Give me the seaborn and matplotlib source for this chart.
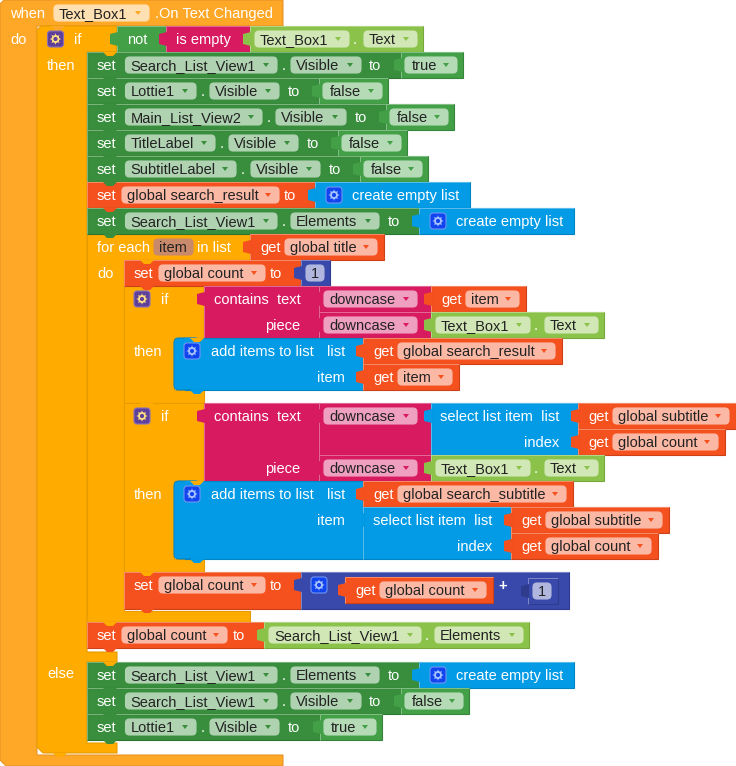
import matplotlib
matplotlib.use('Agg')
import matplotlib.pyplot as plt
from matplotlib.colors import to_rgb
from matplotlib.patches import FancyBboxPatch, Polygon
import pandas as pd
import seaborn as sns

# Block labels
EVENT_COMPONENT = 'Text_Box1'
EVENT_NAME = '.On Text Changed'
VISIBLE_COMPONENTS = ['Search_List_View1', 'Lottie1', 'Main_List_View2', 'TitleLabel', 'SubtitleLabel']
VISIBLE_VALUES = ['true', 'false', 'false', 'false', 'false']
ELSE_COMPONENTS = ['Search_List_View1', 'Lottie1']
ELSE_VALUES = ['false', 'true']
LIST_COMPONENT = 'Search_List_View1'
GLOBALS = ['global search_result', 'global title', 'global count', 'global subtitle', 'global search_subtitle']
LOOP_VAR = 'item'

# Colours
HAT = '#FFA726'
CTRL = '#FFAB00'
GREEN = '#388E3C'
GREEN2 = '#43A047'
PINK = '#D81B60'
LIME = '#8BC34A'
BLUE = '#039BE5'
RED = '#F4511E'
INDIGO = '#3949AB'
CHIPS = {HAT: '#FFE0B2', GREEN: '#AFD2B1', GREEN2: '#B4DAB6', PINK: '#EF9FBF', LIME: '#D1E7B6',
         RED: '#FBB8A5', INDIGO: '#B0B6DD'}
EDGES = {HAT: '#E8952A', CTRL: '#E89C00', GREEN: '#2E7532', GREEN2: '#37853B', PINK: '#B3164F',
         LIME: '#76A83D', BLUE: '#0284C4', RED: '#CC4118', INDIGO: '#2F3C8E'}

sns.set_theme(style='white')
plt.rcParams['font.family'] = ['Liberation Sans', 'DejaVu Sans']

fig, ax = plt.subplots(figsize=(7.36, 7.66), dpi=100)
fig.subplots_adjust(0, 0, 1, 1)
ax.set_xlim(0, 736)
ax.set_ylim(766, 0)
ax.axis('off')

FS = 10.56
gears = []


def lighter(color, amount=0.35):
    return tuple(c + (1 - c) * amount for c in to_rgb(color))


def box(x0, y0, x1, y1, face, r=0, z=1, edge=None):
    style = 'round,pad=0,rounding_size=%s' % r if r else 'square,pad=0'
    ax.add_patch(FancyBboxPatch((x0, y0), x1 - x0, y1 - y0, boxstyle=style, fc=face,
                                ec=edge or EDGES.get(face, face), lw=0.8, zorder=z))
    if face in EDGES and not r:
        # blocks have a lit top and left side
        ax.plot([x0, x0, x1], [y1, y0, y0], color=lighter(face), lw=0.7, zorder=z, solid_capstyle='butt')


def shape(points, face, z=1):
    ax.add_patch(Polygon(points, closed=True, fc=face, ec=EDGES[face], lw=0.8, zorder=z, joinstyle='round'))


def word(x, y, s, color='white', ha='left', weight='normal'):
    ax.text(x, y + 18, s, color=color, ha=ha, va='baseline', fontsize=FS, fontweight=weight, zorder=6)


def chip(x0, x1, y, label, block, pad=5):
    box(x0, y + 5, x1, y + 21, CHIPS[block], r=4, z=4)
    word(x0 + pad, y, label, '#222222')
    ax.add_patch(Polygon([(x1 - 14, y + 11), (x1 - 8, y + 11), (x1 - 11, y + 15)], fc=block, ec='none', zorder=5))


def tab(x, y, face):
    pts = [(x + 1, y + 6), (x - 3, y + 7), (x - 7, y + 8), (x - 7, y + 18), (x - 3, y + 19), (x + 1, y + 20)]
    ax.add_patch(Polygon(pts, closed=True, fc=face, ec='none', zorder=3))


def notch(x, y, face):
    pts = [(x, y), (x + 4, y + 4), (x + 10, y + 4), (x + 14, y)]
    ax.add_patch(Polygon(pts, closed=True, fc=face, ec='none', zorder=3))


def gear(cx, cy, back, tooth, rim):
    box(cx - 8, cy - 8, cx + 8, cy + 8, back, r=3, z=4, edge=rim)
    gears.append((cx, cy, tooth, back))


def blue_gear(cx, cy):
    gear(cx, cy, '#1144EE', '#A9C4FF', '#6F96F5')


def ctrl_gear(cx, cy):
    gear(cx, cy, '#5E3F99', '#FFE082', '#8A70BC')


def getter(x0, x1, y, label):
    box(x0, y, x1, y + 26, RED, z=2)
    tab(x0, y, RED)
    word(x0 + 10, y, 'get')
    chip(x0 + 35, x1 - 7, y, label, RED)


def comp_prop(x0, y, comp='Text_Box1', prop='Text'):
    # lime component.property value block
    x1 = x0 + 173
    box(x0, y, x1, y + 26, LIME, z=2)
    tab(x0, y, LIME)
    chip(x0 + 5, x0 + 99, y, comp, LIME)
    word(x0 + 103, y, '.')
    chip(x0 + 114, x0 + 167, y, prop, LIME)


def empty_list(x0, x1, y):
    box(x0, y, x1, y + 26, BLUE, z=2)
    tab(x0, y, BLUE)
    blue_gear(x0 + 19, y + 13)
    word(x0 + 37, y, 'create empty list')


def bool_block(x0, x1, y, label):
    box(x0, y, x1, y + 26, GREEN2, z=2)
    tab(x0, y, GREEN2)
    chip(x0 + 4, x1 - 6, y, label, GREEN2, pad=7)


def setter(y, comp, comp_end, prop, prop_x, prop_end, to_x, x_end):
    box(87, y, x_end, y + 26, GREEN, z=2)
    word(97, y, 'set')
    chip(125.5, comp_end, y, comp, GREEN)
    word(comp_end + 5, y, '.')
    chip(prop_x, prop_end, y, prop, GREEN)
    word(to_x, y, 'to')


def downcase(y, h=26):
    box(319, y, 431, y + h, PINK, z=2)
    tab(319, y, PINK)
    chip(324, 417, y, 'downcase', PINK)


def add_items(y0, y1):
    # rounded only on the left
    box(174, y0, 200, y1, BLUE, r=5, z=2)
    ax.add_patch(FancyBboxPatch((190, y0), 173, y1 - y0, boxstyle='square,pad=0', fc=BLUE,
                                ec=EDGES[BLUE], lw=0.8, zorder=2))
    ax.plot([185, 195], [y0, y0], color=BLUE, lw=1, zorder=2)
    ax.plot([185, 195], [y1, y1], color=EDGES[BLUE], lw=0.8, zorder=2)
    ax.add_patch(Polygon([(186, y0 + 1), (194, y0 + 1), (194, y1 - 1), (186, y1 - 1)], fc=BLUE, ec='none', zorder=2.5))


# Enclosing C shapes
shape([(0, 4), (4, 0), (283, 0), (283, 26), (37, 26), (37, 755), (283, 755), (283, 766),
       (6, 766), (0, 760)], HAT)
shape([(37, 30), (41, 26), (117, 26), (117, 52), (87, 52), (87, 652), (117, 652), (117, 662), (87, 662),
       (87, 743), (117, 743), (117, 753), (43, 753), (37, 747)], CTRL)
shape([(87, 234), (250, 234), (250, 260), (124, 260), (124, 611), (250, 611), (250, 622), (87, 622)], CTRL)
shape([(124, 286), (204, 286), (204, 338), (174, 338), (174, 390), (204, 390), (204, 403), (124, 403)], CTRL)
shape([(124, 403), (204, 403), (204, 481), (174, 481), (174, 559), (204, 559), (204, 572), (124, 572)], CTRL)

# Event header
word(10, 0, 'when')
chip(54, 149, 0, EVENT_COMPONENT, HAT)
word(155, 0, EVENT_NAME)
word(10, 26, 'do')
notch(51, 26, HAT)

# if not is empty
ctrl_gear(55.5, 39)
word(74, 26, 'if')
word(47, 52, 'then')
box(117, 26, 166, 52, GREEN2, z=2)
tab(117, 26, GREEN2)
word(127, 26, 'not')
box(166, 26, 250, 52, PINK, z=2)
tab(166, 26, PINK)
word(176, 26, 'is empty')
comp_prop(250, 26)

# then: visible rows
ROW_Y = [52, 78, 104, 130, 156]
ROW_LAYOUT = [(277, 291, 361, 369, 401, 463),
              (196, 210, 279, 288, 319, 388),
              (262, 276, 346, 355, 386, 454),
              (215, 229, 298, 307, 338, 407),
              (236, 251, 320, 329, 360, 428)]
for y, comp, val, lay in zip(ROW_Y, VISIBLE_COMPONENTS, VISIBLE_VALUES, ROW_LAYOUT):
    setter(y, comp, lay[0], 'Visible', lay[1], lay[2], lay[3], lay[4])
    bool_block(lay[4], lay[5], y, val)
    notch(103, y + 26, GREEN)
notch(103, 52, CTRL)

# set global search_result
box(87, 182, 315, 208, RED, z=2)
word(97, 182, 'set')
chip(122, 279, 182, GLOBALS[0], RED)
word(284, 182, 'to')
empty_list(315, 470, 182)
notch(103, 208, RED)

setter(208, LIST_COMPONENT, 277, 'Elements', 291, 379, 388, 419)
empty_list(419, 574, 208)
notch(103, 234, GREEN)

# for each
word(97, 234, 'for each')
box(154, 239, 193, 255, '#C98A6B', r=4, z=4)
word(159, 234, LOOP_VAR, '#222222')
word(197, 234, 'in list')
getter(250, 384, 234, GLOBALS[1])
word(97, 260, 'do')
notch(140, 260, CTRL)

# set global count to 1
box(124, 260, 301, 286, RED, z=2)
word(134, 260, 'set')
chip(159, 265, 260, GLOBALS[2], RED)
word(270, 260, 'to')
box(301, 260, 330, 286, INDIGO, z=2)
tab(301, 260, INDIGO)
box(306, 265, 324, 281, CHIPS[INDIGO], r=4, z=4)
word(315, 260, '1', '#222222', ha='center')
notch(140, 286, RED)

# first nested if
ctrl_gear(142, 299)
word(161, 286, 'if')
box(204, 286, 319, 338, PINK, z=2)
tab(204, 286, PINK)
word(214, 286, 'contains  text')
word(300, 312, 'piece', ha='right')
downcase(286)
downcase(312)
getter(431, 526, 286, LOOP_VAR)
comp_prop(431, 312)
word(134, 338, 'then')
add_items(338, 390)
notch(190, 338, CTRL)
blue_gear(192, 351)
word(211, 338, 'add items to list')
word(327, 338, 'list')
word(345, 364, 'item', ha='right')
getter(363, 562, 338, GLOBALS[0])
getter(363, 459, 364, LOOP_VAR)
notch(190, 390, BLUE)

# second nested if
ctrl_gear(142, 416)
word(161, 403, 'if')
notch(140, 403, CTRL)
box(204, 403, 319, 481, PINK, z=2)
tab(204, 403, PINK)
word(214, 403, 'contains  text')
word(300, 455, 'piece', ha='right')
downcase(403, 52)
downcase(455)
box(431, 403, 578, 455, BLUE, z=2)
tab(431, 403, BLUE)
word(440, 403, 'select list item  list')
word(559, 429, 'index', ha='right')
getter(578, 736, 403, GLOBALS[3])
getter(578, 725, 429, GLOBALS[2])
comp_prop(431, 455)
word(134, 481, 'then')
add_items(481, 559)
notch(190, 481, CTRL)
blue_gear(192, 494)
word(211, 481, 'add items to list')
word(327, 481, 'list')
word(345, 507, 'item', ha='right')
getter(363, 573, 481, GLOBALS[4])
box(363, 507, 511, 559, BLUE, z=2)
tab(363, 507, BLUE)
word(373, 507, 'select list item  list')
word(492, 533, 'index', ha='right')
getter(511, 669, 507, GLOBALS[3])
getter(511, 658, 533, GLOBALS[2])
notch(190, 559, BLUE)

# increment count
box(124, 572, 301, 609, RED, z=2)
notch(140, 572, CTRL)
word(134, 572, 'set')
chip(159, 265, 572, GLOBALS[2], RED)
word(270, 572, 'to')
box(301, 572, 569, 609, INDIGO, z=2)
tab(301, 572, INDIGO)
blue_gear(319, 585)
getter(345, 493, 577, GLOBALS[2])
word(503, 572, '+', ha='center', weight='bold')
box(528, 578, 558, 604, INDIGO, z=3)
tab(528, 578, '#2F3C8E')
box(533, 583, 551, 599, CHIPS[INDIGO], r=4, z=4)
word(542, 578, '1', '#222222', ha='center')
notch(140, 609, RED)

# set global count to elements
box(87, 622, 264, 648, RED, z=2)
notch(103, 622, CTRL)
word(97, 622, 'set')
chip(122, 227, 622, GLOBALS[2], RED)
word(233, 622, 'to')
box(264, 622, 529, 648, LIME, z=2)
tab(264, 622, LIME)
chip(269, 421, 622, LIST_COMPONENT, LIME)
word(425, 622, '.')
chip(435, 523, 622, 'Elements', LIME)
notch(103, 648, RED)

# else branch
word(47, 660, 'else')
notch(103, 662, CTRL)
setter(662, LIST_COMPONENT, 277, 'Elements', 291, 379, 388, 419)
empty_list(419, 574, 662)
notch(103, 688, GREEN)
setter(688, ELSE_COMPONENTS[0], 277, 'Visible', 291, 361, 369, 401)
bool_block(401, 469, 688, ELSE_VALUES[0])
notch(103, 714, GREEN)
setter(714, ELSE_COMPONENTS[1], 196, 'Visible', 210, 279, 288, 320)
bool_block(320, 382, 714, ELSE_VALUES[1])
notch(103, 740, GREEN)
notch(53, 753, CTRL)

# gear icons
gear_df = pd.DataFrame(gears, columns=['x', 'y', 'tooth', 'hole'])
sns.scatterplot(data=gear_df, x='x', y='y', ax=ax, marker=(8, 1, 0), s=70, c=gear_df['tooth'],
                linewidth=0, zorder=5, legend=False)
sns.scatterplot(data=gear_df, x='x', y='y', ax=ax, marker='o', s=32, c=gear_df['tooth'],
                linewidth=0, zorder=5, legend=False)
sns.scatterplot(data=gear_df, x='x', y='y', ax=ax, marker='o', s=9, c=gear_df['hole'],
                linewidth=0, zorder=6, legend=False)
ax.set_xlim(0, 736)
ax.set_ylim(766, 0)
ax.axis('off')

fig.savefig('out.png', dpi=100)
